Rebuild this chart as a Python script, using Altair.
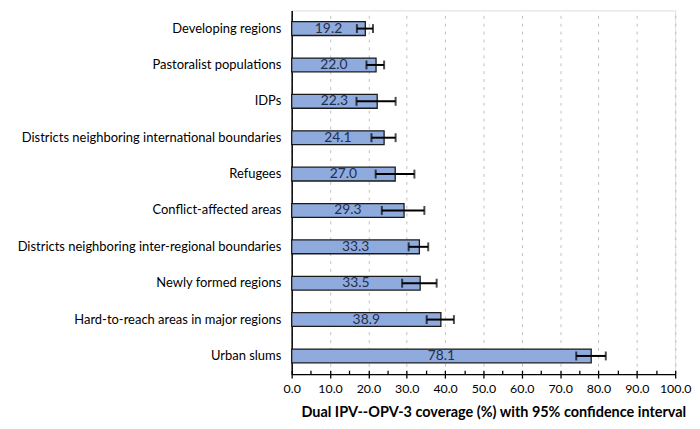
import altair as alt
import pandas as pd

categories = [
    "Developing regions",
    "Pastoralist populations",
    "IDPs",
    "Districts neighboring international boundaries",
    "Refugees",
    "Conflict-affected areas",
    "Districts neighboring inter-regional boundaries",
    "Newly formed regions",
    "Hard-to-reach areas in major regions",
    "Urban slums",
]
coverage = [19.2, 22.0, 22.3, 24.1, 27.0, 29.3, 33.3, 33.5, 38.9, 78.1]
ci_low = [17.0, 19.5, 16.9, 20.8, 21.9, 23.5, 30.5, 28.8, 35.2, 74.2]
ci_high = [21.2, 24.1, 27.1, 27.1, 32.0, 34.6, 35.6, 37.8, 42.3, 81.9]
major_ticks = [0, 10, 20, 30, 40, 50, 60, 70, 80, 90, 100]
minor_ticks = [0, 5, 10, 15, 20, 25, 30, 35, 40, 45, 50, 55, 60, 65, 70, 75, 80, 85, 90, 95, 100]

df = pd.DataFrame({
    "cat": categories,
    "val": coverage,
    "lo": ci_low,
    "hi": ci_high,
})
df["mid"] = df["val"] / 2
df["lbl"] = df["val"].map(lambda v: f"{v:.1f}")

FONT = "Lato"

y_enc = alt.Y(
    "cat:N",
    sort=categories,
    scale=alt.Scale(paddingInner=0.62, paddingOuter=0.31),
    axis=alt.Axis(
        title=None, ticks=False, domainColor="#000000", domainWidth=1.5,
        labelFont=FONT, labelFontSize=13.1, labelColor="#000000",
        labelPadding=11, labelLimit=400,
    ),
)

x_scale = alt.Scale(domain=[0, 100], nice=False)

base = alt.Chart(df)

bars = base.mark_bar(
    fill="#8FAADC", stroke="#1a1a1a", strokeWidth=1.3
).encode(
    x=alt.X(
        "val:Q",
        scale=x_scale,
        axis=alt.Axis(
            values=major_ticks, format=".1f", labelOverlap=False, labelFlush=False,
            title="Dual IPV--OPV-3 coverage (%) with 95% confidence interval",
            titleFont=FONT, titleFontSize=14.6, titleFontWeight="bold",
            titleColor="#000000", titlePadding=9, titleX=204, titleAlign="center",
            labelFont=FONT, labelFontSize=12.5, labelColor="#000000",
            labelPadding=5,
            domainColor="#000000", domainWidth=1.5,
            tickColor="#000000", tickSize=4, tickWidth=1.3,
            grid=True, gridColor="#BFBFBF", gridDash=[3, 5], gridWidth=1,
        ),
    ),
    y=y_enc,
)

rules = base.mark_rule(color="#000000", strokeWidth=2).encode(
    x=alt.X(
        "lo:Q",
        scale=x_scale,
        axis=alt.Axis(
            values=minor_ticks, labels=False, title=None, domain=False,
            grid=False, tickColor="#000000", tickSize=4, tickWidth=1.3,
            offset=-4, orient="bottom",
        ),
    ),
    x2="hi:Q",
    y=alt.Y("cat:N", sort=categories),
)

caps_lo = base.mark_tick(color="#000000", size=9, thickness=2).encode(
    x=alt.X("lo:Q", scale=x_scale, axis=None),
    y=alt.Y("cat:N", sort=categories),
)
caps_hi = base.mark_tick(color="#000000", size=9, thickness=2).encode(
    x=alt.X("hi:Q", scale=x_scale, axis=None),
    y=alt.Y("cat:N", sort=categories),
)

labels = base.mark_text(
    font=FONT, fontSize=14, color="#1F2F4F"
).encode(
    x=alt.X("mid:Q", scale=x_scale, axis=None),
    y=alt.Y("cat:N", sort=categories),
    text="lbl:N",
)

chart = alt.layer(bars, rules, caps_lo, caps_hi, labels).resolve_axis(
    x="independent"
).properties(
    width=388,
    height=368,
    autosize=alt.AutoSizeParams(type="none"),
    padding={"left": 287, "top": 0, "right": 17, "bottom": 45},
).configure_view(stroke=None).configure(background="#ffffff")

chart.save("out.html", embed_options={"renderer": "svg", "actions": False})
